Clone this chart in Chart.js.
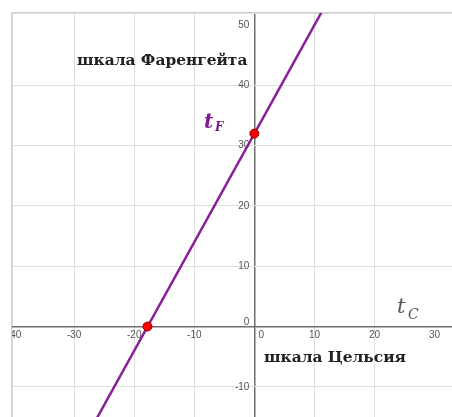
<!DOCTYPE html>
<html>
<head>
<meta charset="utf-8">
<script src="https://cdn.jsdelivr.net/npm/chart.js@4"></script>
<style>
  body { margin: 0; background: #fff; overflow: hidden; }
  #wrap { width: 452px; height: 417px; }
  canvas { display: block; }
</style>
</head>
<body>
<div id="wrap"><canvas id="chart" width="452" height="417"></canvas></div>
<script>
// line tF = 1.8 * tC + 32, given by its two ends
const lineC = [-40, 30];
const lineF = [-40, 86];
// marked points (freezing point of water, 0 °F)
const markC = [-17.8, 0];
const markF = [0, 32];
// tick labels along the axes
const xTicks = [-40, -30, -20, -10, 0, 10, 20, 30];
const yTicks = [-10, 0, 10, 20, 30, 40, 50];

const purple = "#8b1e9b";
const gridGray = "#dedede";
const axisGray = "#6e6e6e";

// draws the frame, the tick labels next to the axes and the text labels
const geoPlugin = {
    id: "geo",
    beforeDraw(chart) {
        const { ctx, chartArea: a } = chart;
        ctx.save();
        ctx.strokeStyle = "#cfcfcf";
        ctx.lineWidth = 1;
        ctx.beginPath();
        ctx.moveTo(a.left - 0.5, a.bottom);
        ctx.lineTo(a.left - 0.5, a.top - 0.5);
        ctx.lineTo(a.right, a.top - 0.5);
        ctx.stroke();
        ctx.restore();
    },
    beforeDatasetsDraw(chart) {
        const { ctx, chartArea: a, scales: { x, y } } = chart;
        const x0 = x.getPixelForValue(0);
        const y0 = y.getPixelForValue(0);
        ctx.save();
        // labels are cut at the edge of the plot, like the "-40" in the original
        ctx.beginPath();
        ctx.rect(a.left, a.top, a.right - a.left, a.bottom - a.top);
        ctx.clip();
        ctx.font = "10px 'Liberation Sans', Arial, sans-serif";
        ctx.fillStyle = "#555";
        ctx.textBaseline = "middle";
        xTicks.forEach(v => {
            const px = x.getPixelForValue(v);
            if (v === 0) {
                ctx.textAlign = "left";
                ctx.fillText("0", px + 4, y0 + 9);
            } else {
                ctx.textAlign = "center";
                ctx.fillText(String(v), px, y0 + 9);
            }
        });
        yTicks.forEach(v => {
            const py = y.getPixelForValue(v);
            ctx.textAlign = "right";
            ctx.fillText(String(v), x0 - 5, v === 0 ? py - 4.5 : py);
        });
        ctx.restore();
    },
    afterDraw(chart) {
        const { ctx } = chart;
        ctx.save();
        ctx.textBaseline = "alphabetic";
        ctx.textAlign = "left";
        ctx.fillStyle = "#222";
        ctx.font = "bold 15.4px 'DejaVu Serif', serif";
        ctx.fillText("шкала Фаренгейта", 77, 65);
        ctx.fillText("шкала Цельсия", 264, 362);

        // t_F
        ctx.fillStyle = "#7a1c8c";
        ctx.font = "bold italic 20px 'DejaVu Serif', serif";
        ctx.fillText("t", 204, 128);
        ctx.font = "bold italic 12px 'DejaVu Serif', serif";
        ctx.fillText("F", 215, 131);

        // t_C
        ctx.fillStyle = "#555";
        ctx.font = "italic 21px 'DejaVu Serif', serif";
        ctx.fillText("t", 397, 313);
        ctx.font = "italic 14px 'DejaVu Serif', serif";
        ctx.fillText("C", 408, 319);
        ctx.restore();
    }
};

new Chart(document.getElementById("chart"), {
    type: "scatter",
    data: {
        datasets: [
            {
                data: lineC.map((c, i) => ({ x: c, y: lineF[i] })),
                showLine: true,
                borderColor: purple,
                borderWidth: 2.5,
                pointRadius: 0,
                order: 2
            },
            {
                data: markC.map((c, i) => ({ x: c, y: markF[i] })),
                showLine: false,
                backgroundColor: "#ff0000",
                borderColor: "#8a0000",
                borderWidth: 1,
                pointRadius: 4.5,
                order: 1
            }
        ]
    },
    options: {
        responsive: false,
        animation: false,
        layout: { autoPadding: false, padding: { left: 12, top: 13, right: 0, bottom: 0 } },
        plugins: { legend: { display: false }, tooltip: { enabled: false } },
        scales: {
            x: {
                type: "linear",
                min: -40.35,
                max: 32.9,
                afterFit: s => { s.height = 0; },
                ticks: { display: false, stepSize: 10 },
                border: { display: false },
                grid: {
                    drawTicks: false,
                    color: ctx => ctx.tick && ctx.tick.value === 0 ? axisGray : gridGray,
                    lineWidth: ctx => ctx.tick && ctx.tick.value === 0 ? 1.5 : 1
                }
            },
            y: {
                type: "linear",
                min: -15,
                max: 52,
                afterFit: s => { s.width = 0; },
                ticks: { display: false, stepSize: 10 },
                border: { display: false },
                grid: {
                    drawTicks: false,
                    color: ctx => ctx.tick && ctx.tick.value === 0 ? axisGray : gridGray,
                    lineWidth: ctx => ctx.tick && ctx.tick.value === 0 ? 1.5 : 1
                }
            }
        }
    },
    plugins: [geoPlugin]
});
</script>
</body>
</html>
